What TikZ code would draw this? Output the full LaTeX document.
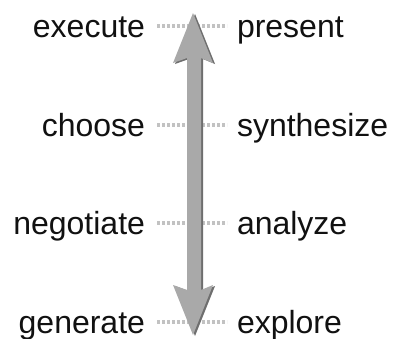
\documentclass[tikz,border=0pt]{standalone}
\usepackage{fontspec}
\setmainfont{Liberation Sans}
\definecolor{arrowfill}{HTML}{A9A9A9}
\definecolor{arrowshade}{HTML}{6E6E6E}
\definecolor{dotgray}{HTML}{C2C2C2}
\definecolor{txt}{HTML}{111111}
\begin{document}
\begin{tikzpicture}[x=1pt,y=-1pt,
  lbl/.style={inner sep=0pt, outer sep=0pt, text=txt, font=\fontsize{32}{36}\selectfont},
  leftlbl/.style={lbl, anchor=base east},
  rightlbl/.style={lbl, anchor=base west},
  dotline/.style={draw=dotgray, line width=4pt, dash pattern=on 3pt off 2pt}]
\useasboundingbox[fill=white] (0,0) rectangle (395,338);
% labels
\node[leftlbl]  (L1) at (145,37)  {execute};
\node[rightlbl] (R1) at (237,37)  {present};
\node[leftlbl]  (L2) at (145,136) {choose};
\node[rightlbl] (R2) at (237,136) {synthesize};
\node[leftlbl]  (L3) at (145,234) {negotiate};
\node[rightlbl] (R3) at (237,234) {analyze};
\node[leftlbl]  (L4) at (145,333) {generate};
\node[rightlbl] (R4) at (237,333) {explore};
% dotted connectors
\foreach \i in {1,...,4}{
  \draw[dotline] ([xshift=12pt,yshift=11pt]L\i.base east) -- ([xshift=-10pt,yshift=11pt]R\i.base west);
}
% double arrow: shade then body
\fill[arrowshade, shift={(2,1)}]
  (193,13) -- (213,63) -- (201,58) -- (201,290) -- (213,285) -- (193,335)
  -- (173,285) -- (187,290) -- (187,58) -- (173,63) -- cycle;
\fill[arrowfill]
  (193,13) -- (213,63) -- (201,58) -- (201,290) -- (213,285) -- (193,335)
  -- (173,285) -- (187,290) -- (187,58) -- (173,63) -- cycle;
\end{tikzpicture}
\end{document}
